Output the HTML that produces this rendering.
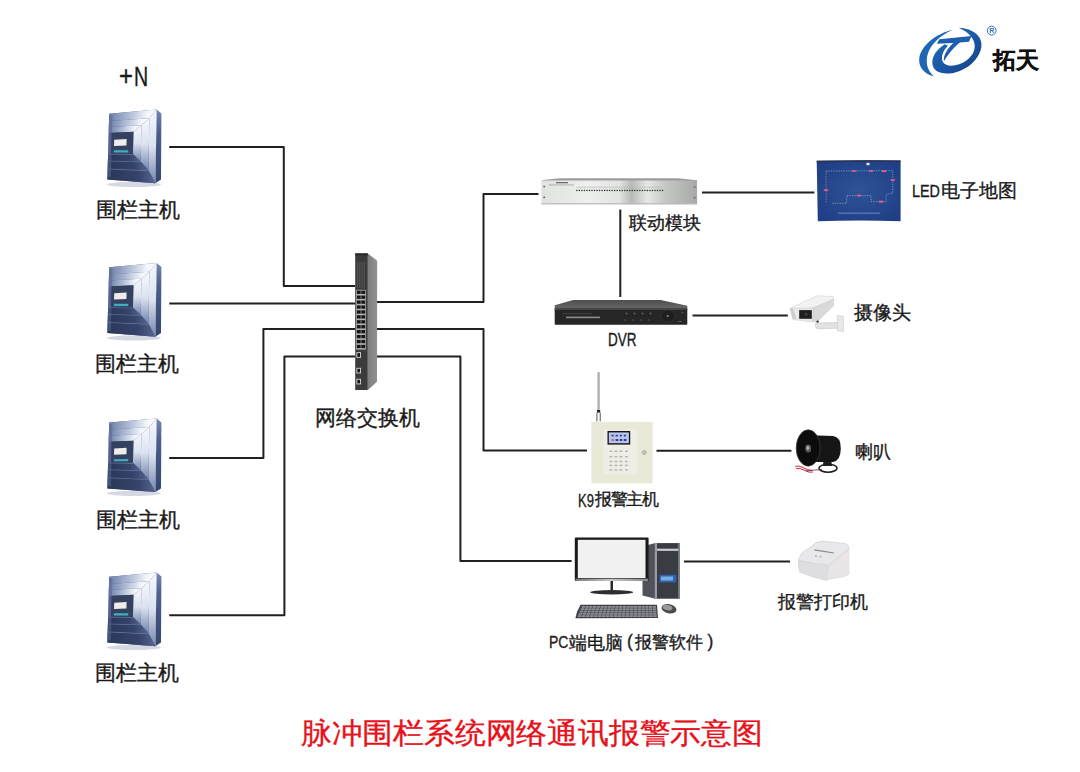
<!DOCTYPE html>
<html><head><meta charset="utf-8">
<style>
html,body{margin:0;padding:0;background:#fff;}
body{width:1080px;height:772px;position:relative;overflow:hidden;font-family:"Liberation Sans",sans-serif;}
svg{position:absolute;left:0;top:0;}
.t{position:absolute;white-space:nowrap;color:#1a1a1a;line-height:1;-webkit-text-stroke:0.35px currentColor;}
.l{font-size:21px;}
.r{font-size:18.5px;}
.nar{display:inline-block;transform:scaleX(0.78);transform-origin:0 50%;}
</style></head><body>
<svg width="1080" height="772" viewBox="0 0 1080 772">
<defs>
  <linearGradient id="hSide" x1="0" y1="0" x2="0" y2="1">
    <stop offset="0" stop-color="#7587b0"/><stop offset="0.3" stop-color="#4a5f8e"/><stop offset="1" stop-color="#34446c"/>
  </linearGradient>
  <linearGradient id="hTop" x1="0" y1="0" x2="1" y2="0">
    <stop offset="0" stop-color="#6d7fa8"/><stop offset="0.45" stop-color="#b4c0d8"/><stop offset="0.8" stop-color="#f3f6fb"/><stop offset="1" stop-color="#fafbfd"/>
  </linearGradient>
  <linearGradient id="hRight" x1="0" y1="0" x2="0" y2="1">
    <stop offset="0" stop-color="#f6f8fc"/><stop offset="0.5" stop-color="#dbe2ef"/><stop offset="1" stop-color="#7384ab"/>
  </linearGradient>
  <linearGradient id="hBot" x1="0" y1="0" x2="1" y2="0">
    <stop offset="0" stop-color="#2b3757"/><stop offset="0.65" stop-color="#36436a"/><stop offset="1" stop-color="#56668f"/>
  </linearGradient>
  <g id="host">
<ellipse cx="134" cy="184.5" rx="27" ry="2.6" fill="#aeb8cc" opacity="0.55"/>
<polygon points="156.6,109.6 161.4,113.6 161,179.6 155.4,183.2" fill="url(#hSide)"/>
<polygon points="109.20,113.80 156.60,109.60 155.40,183.20 107.40,179.60" fill="#4c5d88" />
<polygon points="109.20,113.80 156.60,109.60 149.35,118.20 109.00,121.04" fill="url(#hTop)" />
<polygon points="156.60,109.60 155.40,183.20 148.42,170.35 149.35,118.20" fill="url(#hRight)" />
<polygon points="107.71,168.41 148.42,170.35 155.40,183.20 107.40,179.60" fill="url(#hBot)" />
<polygon points="107.71,168.41 148.42,170.35 148.88,171.24 107.68,169.20" fill="#6578a3" />
<polygon points="109.00,121.04 149.35,118.20 141.39,125.15 108.84,126.96" fill="url(#hTop)" />
<polygon points="149.35,118.20 148.42,170.35 140.68,161.43 141.39,125.15" fill="url(#hRight)" />
<polygon points="107.92,160.52 140.68,161.43 148.42,170.35 107.71,168.41" fill="url(#hBot)" />
<polygon points="107.92,160.52 140.68,161.43 141.14,162.30 107.90,161.31" fill="#6578a3" />
<polygon points="108.84,126.96 141.39,125.15 133.42,131.87 108.68,132.88" fill="url(#hTop)" />
<polygon points="141.39,125.15 140.68,161.43 132.94,154.02 133.42,131.87" fill="url(#hRight)" />
<polygon points="108.11,153.74 132.94,154.02 140.68,161.43 107.92,160.52" fill="url(#hBot)" />
<polygon points="108.11,153.74 132.94,154.02 133.40,154.86 108.09,154.53" fill="#6578a3" />
<polygon points="109.16,115.12 112.47,115.50 110.83,177.20 107.45,177.63" fill="#566a96" opacity="0.55"/>
<polygon points="111.53,132.77 133.42,131.87 132.94,154.02 110.97,153.77" fill="#34415f" />
<polygon points="114.21,139.66 126.60,139.02 126.45,145.55 114.04,146.00" fill="#f1ecec" />
<polygon points="113.93,150.33 128.25,150.17 128.20,152.45 113.87,152.54" fill="#3fb0c0" />

  </g>
  <linearGradient id="swSide" x1="0" y1="0" x2="1" y2="0">
    <stop offset="0" stop-color="#7e7e7e"/><stop offset="1" stop-color="#929292"/>
  </linearGradient>
  <linearGradient id="silver" x1="0" y1="0" x2="1" y2="1">
    <stop offset="0" stop-color="#d8d8d8"/><stop offset="0.5" stop-color="#f2f2f2"/><stop offset="1" stop-color="#c4c4c4"/>
  </linearGradient>
  <linearGradient id="modFront" x1="0" y1="0" x2="1" y2="0">
    <stop offset="0" stop-color="#dfe2df"/><stop offset="0.3" stop-color="#eef0ee"/><stop offset="0.5" stop-color="#e2e4e2"/><stop offset="0.58" stop-color="#b8bab8"/><stop offset="0.68" stop-color="#e6e8e6"/><stop offset="0.8" stop-color="#c4c6c4"/><stop offset="1" stop-color="#a8aaa8"/>
  </linearGradient>
  <radialGradient id="ledG" cx="0.5" cy="0.5" r="0.6">
    <stop offset="0" stop-color="#2e5396"/><stop offset="1" stop-color="#203f86"/>
  </radialGradient>
  <linearGradient id="dvrTop" x1="0" y1="0" x2="0" y2="1">
    <stop offset="0" stop-color="#4e4e50"/><stop offset="1" stop-color="#6a6a6c"/>
  </linearGradient>
  <linearGradient id="bezel" x1="0" y1="0" x2="1" y2="0">
    <stop offset="0" stop-color="#7a7a7a"/><stop offset="0.5" stop-color="#c8c8c8"/><stop offset="1" stop-color="#8a8a8a"/>
  </linearGradient>
  <linearGradient id="logoG" x1="0" y1="0" x2="1" y2="1">
    <stop offset="0" stop-color="#2472c0"/><stop offset="0.55" stop-color="#1a56a4"/><stop offset="1" stop-color="#163c86"/>
  </linearGradient>
</defs>

<g stroke="#202020" stroke-width="2" fill="none" stroke-linejoin="round">
  <polyline points="169.2,147 283.8,147 283.8,286 355,286"/>
  <polyline points="169.3,303.5 355,303.5"/>
  <polyline points="377,302 483.5,302 483.5,193.9 538.5,193.9"/>
  <polyline points="169.2,458 263.4,458 263.4,329 355,329"/>
  <polyline points="377,329 483.5,329 483.5,450.6 587,450.6"/>
  <polyline points="169.2,615.2 284.4,615.2 284.4,356.5 355,356.5"/>
  <polyline points="377,356.4 460.4,356.4 460.4,561 571.6,561"/>
  <polyline points="702,192.6 814.4,192.6"/>
  <polyline points="620.3,209.5 620.3,297"/>
  <polyline points="692.5,315.5 787.8,315.5"/>
  <polyline points="656.5,450.7 791.4,450.7"/>
  <polyline points="684,561.4 790,561.4"/>
</g>

<use href="#host"/>
<use href="#host" transform="translate(0,153.5)"/>
<use href="#host" transform="translate(0,308.8)"/>
<use href="#host" transform="translate(0,463)"/>

<!-- switch -->
<polygon points="367.7,253.4 377.2,260.7 377,381.8 368,390" fill="url(#swSide)"/>
<rect x="355.2" y="253.4" width="12.6" height="136.6" fill="#3b3b3c"/>
<rect x="355.2" y="253.4" width="12.6" height="2" fill="#2a2a2a"/>
<rect x="357.2" y="262" width="0.9" height="26" fill="#5a5a5c"/>
<rect x="359.4" y="262" width="0.9" height="26" fill="#5a5a5c"/>
<rect x="361.6" y="262" width="0.9" height="26" fill="#5a5a5c"/>
<rect x="363.8" y="262" width="0.9" height="26" fill="#5a5a5c"/>
<rect x="356.2" y="289.8" width="9.6" height="59.8" fill="#b4b4b4"/>
<rect x="356.9" y="290.60" width="3.8" height="3.3" fill="#161616"/>
<rect x="361.3" y="290.60" width="3.8" height="3.3" fill="#161616"/>
<rect x="356.9" y="295.53" width="3.8" height="3.3" fill="#161616"/>
<rect x="361.3" y="295.53" width="3.8" height="3.3" fill="#161616"/>
<rect x="356.9" y="300.46" width="3.8" height="3.3" fill="#161616"/>
<rect x="361.3" y="300.46" width="3.8" height="3.3" fill="#161616"/>
<rect x="356.9" y="305.39" width="3.8" height="3.3" fill="#161616"/>
<rect x="361.3" y="305.39" width="3.8" height="3.3" fill="#161616"/>
<rect x="356.9" y="310.32" width="3.8" height="3.3" fill="#161616"/>
<rect x="361.3" y="310.32" width="3.8" height="3.3" fill="#161616"/>
<rect x="356.9" y="315.25" width="3.8" height="3.3" fill="#161616"/>
<rect x="361.3" y="315.25" width="3.8" height="3.3" fill="#161616"/>
<rect x="356.9" y="320.18" width="3.8" height="3.3" fill="#161616"/>
<rect x="361.3" y="320.18" width="3.8" height="3.3" fill="#161616"/>
<rect x="356.9" y="325.11" width="3.8" height="3.3" fill="#161616"/>
<rect x="361.3" y="325.11" width="3.8" height="3.3" fill="#161616"/>
<rect x="356.9" y="330.04" width="3.8" height="3.3" fill="#161616"/>
<rect x="361.3" y="330.04" width="3.8" height="3.3" fill="#161616"/>
<rect x="356.9" y="334.97" width="3.8" height="3.3" fill="#161616"/>
<rect x="361.3" y="334.97" width="3.8" height="3.3" fill="#161616"/>
<rect x="356.9" y="339.90" width="3.8" height="3.3" fill="#161616"/>
<rect x="361.3" y="339.90" width="3.8" height="3.3" fill="#161616"/>
<rect x="356.9" y="344.83" width="3.8" height="3.3" fill="#161616"/>
<rect x="361.3" y="344.83" width="3.8" height="3.3" fill="#161616"/>
<rect x="356.4" y="352.2" width="4.6" height="5.6" fill="#d8d8d8"/><rect x="357.3" y="353.1" width="2.8" height="3.8" fill="#1a1a1a"/>
<rect x="356.4" y="367.8" width="4.6" height="5.6" fill="#d8d8d8"/><rect x="357.3" y="368.7" width="2.8" height="3.8" fill="#1a1a1a"/>
<rect x="356.4" y="378.8" width="4.6" height="5.6" fill="#d8d8d8"/><rect x="357.3" y="379.7" width="2.8" height="3.8" fill="#1a1a1a"/>
<!-- linkage module -->
<polygon points="543,180 560,178.3 678,178.3 697,180.3 697,181.5 541.3,181.5" fill="#9c9c9c"/>
<rect x="541.3" y="180.5" width="155.8" height="23.7" fill="url(#modFront)"/>
<rect x="541.3" y="203.2" width="155.8" height="1.2" fill="#b8b8b8"/>
<rect x="576.20" y="189.8" width="1.3" height="1.3" fill="#2a2a2a"/><rect x="578.72" y="189.8" width="1.3" height="1.3" fill="#2a2a2a"/><rect x="581.24" y="189.8" width="1.3" height="1.3" fill="#2a2a2a"/><rect x="583.76" y="189.8" width="1.3" height="1.3" fill="#2a2a2a"/><rect x="586.28" y="189.8" width="1.3" height="1.3" fill="#2a2a2a"/><rect x="588.80" y="189.8" width="1.3" height="1.3" fill="#2a2a2a"/><rect x="591.32" y="189.8" width="1.3" height="1.3" fill="#2a2a2a"/><rect x="593.84" y="189.8" width="1.3" height="1.3" fill="#2a2a2a"/><rect x="596.36" y="189.8" width="1.3" height="1.3" fill="#2a2a2a"/><rect x="598.88" y="189.8" width="1.3" height="1.3" fill="#2a2a2a"/><rect x="601.40" y="189.8" width="1.3" height="1.3" fill="#2a2a2a"/><rect x="603.92" y="189.8" width="1.3" height="1.3" fill="#2a2a2a"/><rect x="606.44" y="189.8" width="1.3" height="1.3" fill="#2a2a2a"/><rect x="608.96" y="189.8" width="1.3" height="1.3" fill="#2a2a2a"/><rect x="611.48" y="189.8" width="1.3" height="1.3" fill="#2a2a2a"/><rect x="614.00" y="189.8" width="1.3" height="1.3" fill="#2a2a2a"/><rect x="616.52" y="189.8" width="1.3" height="1.3" fill="#2a2a2a"/><rect x="619.04" y="189.8" width="1.3" height="1.3" fill="#2a2a2a"/><rect x="621.56" y="189.8" width="1.3" height="1.3" fill="#2a2a2a"/><rect x="624.08" y="189.8" width="1.3" height="1.3" fill="#2a2a2a"/><rect x="626.60" y="189.8" width="1.3" height="1.3" fill="#2a2a2a"/><rect x="629.12" y="189.8" width="1.3" height="1.3" fill="#2a2a2a"/><rect x="631.64" y="189.8" width="1.3" height="1.3" fill="#2a2a2a"/><rect x="634.16" y="189.8" width="1.3" height="1.3" fill="#2a2a2a"/><rect x="636.68" y="189.8" width="1.3" height="1.3" fill="#2a2a2a"/><rect x="639.20" y="189.8" width="1.3" height="1.3" fill="#2a2a2a"/><rect x="641.72" y="189.8" width="1.3" height="1.3" fill="#2a2a2a"/><rect x="644.24" y="189.8" width="1.3" height="1.3" fill="#2a2a2a"/><rect x="646.76" y="189.8" width="1.3" height="1.3" fill="#2a2a2a"/><rect x="649.28" y="189.8" width="1.3" height="1.3" fill="#2a2a2a"/><rect x="651.80" y="189.8" width="1.3" height="1.3" fill="#2a2a2a"/><rect x="654.32" y="189.8" width="1.3" height="1.3" fill="#2a2a2a"/><rect x="656.84" y="189.8" width="1.3" height="1.3" fill="#2a2a2a"/><rect x="659.36" y="189.8" width="1.3" height="1.3" fill="#2a2a2a"/><rect x="661.88" y="189.8" width="1.3" height="1.3" fill="#2a2a2a"/>
<rect x="576" y="186.8" width="86" height="0.6" fill="#b0b0b0"/>
<rect x="556" y="182" width="12" height="1.3" fill="#6a6a6a"/><rect x="549" y="184.6" width="25" height="0.7" fill="#9a9a9a"/>
<ellipse cx="544.2" cy="186.6" rx="1.1" ry="0.8" fill="#666"/>
<ellipse cx="544.2" cy="197.4" rx="1.1" ry="0.8" fill="#666"/>
<ellipse cx="694.6" cy="187" rx="1.1" ry="0.8" fill="#666"/>
<ellipse cx="694.6" cy="197.8" rx="1.1" ry="0.8" fill="#666"/>
<!-- LED map -->
<path d="M816.7,160.8 Q858,159.8 900.6,160.4 L900.6,221.2 Q858,220 817.8,221.3 Z" fill="url(#ledG)"/>
<path d="M816.7,160.8 Q858,159.8 900.6,160.4 L900.6,162 Q858,161.4 816.7,162.4 Z" fill="#2a3450"/>
<polyline points="826.1,171.1 892.8,170.6 892.8,193.3 886.1,194.4 886.1,201.7 871.1,201.7 871.1,195.6 846.7,195.6 846.7,203.3 831.1,203.3" fill="none" stroke="#a8d0d0" stroke-width="0.9" stroke-dasharray="1.2 1.3" opacity="0.7"/>
<polyline points="826.1,171.1 826.1,202.2" fill="none" stroke="#c89ab8" stroke-width="0.8" stroke-dasharray="1.2 1.3" opacity="0.8"/>
<ellipse cx="854" cy="171" rx="2.6" ry="1.1" fill="#e05a8a"/>
<ellipse cx="871" cy="171" rx="2.6" ry="1.1" fill="#e05a8a"/>
<ellipse cx="884" cy="171.2" rx="2.6" ry="1.1" fill="#e05a8a"/>
<ellipse cx="892.8" cy="180" rx="2.6" ry="1.1" fill="#e05a8a"/>
<ellipse cx="859" cy="195.6" rx="2.6" ry="1.1" fill="#e05a8a"/>
<ellipse cx="881" cy="201.7" rx="2.6" ry="1.1" fill="#e05a8a"/>
<ellipse cx="826.1" cy="190" rx="2.6" ry="1.1" fill="#e05a8a"/>
<rect x="838" y="212.6" width="42" height="1.2" fill="#8aa0d0" opacity="0.6"/>
<rect x="866.5" y="162.8" width="3" height="2.4" fill="#e8eef8"/>
<!-- DVR -->
<polygon points="554.7,305.2 573.3,300 660.7,300 687.3,305.7 687.3,309.5 554.7,309.5" fill="url(#dvrTop)"/>
<rect x="554.7" y="308.6" width="132.6" height="16.1" rx="0.8" fill="#262627"/>
<rect x="554.7" y="308.6" width="132.6" height="1.3" fill="#4a4a4b"/>
<rect x="566" y="316.6" width="34" height="1.6" fill="#a8a8a8" opacity="0.8"/>
<rect x="562" y="313.5" width="30" height="0.6" fill="#555"/>
<circle cx="626.5" cy="313.5" r="0.9" fill="#666"/><circle cx="624.5" cy="320" r="0.8" fill="#555"/>
<circle cx="634.5" cy="313.5" r="0.9" fill="#666"/><circle cx="632.5" cy="320" r="0.8" fill="#555"/>
<circle cx="642.5" cy="313.5" r="0.9" fill="#666"/><circle cx="640.5" cy="320" r="0.8" fill="#555"/>
<circle cx="650.5" cy="313.5" r="0.9" fill="#666"/><circle cx="648.5" cy="320" r="0.8" fill="#555"/>
<ellipse cx="668" cy="316" rx="7" ry="6" fill="#1e1e1f" stroke="#3a3a3a" stroke-width="0.6"/>
<circle cx="667.7" cy="316" r="1.1" fill="#8a8a8a"/>
<rect x="678" y="321" width="4" height="0.8" fill="#6a6a6a"/><circle cx="682.5" cy="312.5" r="0.9" fill="#555"/>
<!-- camera -->
<path d="M815.5,323 L839,322.6 L839.5,328.2 L817.5,328.8 Q815,328 815.5,323 Z" fill="#e2e2e2" stroke="#b8b8b8" stroke-width="0.45"/>
<polygon points="837.2,315.3 843.4,316.6 843.6,331.6 837.4,330.6" fill="#e8e8e8" stroke="#bdbdbd" stroke-width="0.45"/>
<polygon points="790,308.3 817,295.8 833.2,296.5 833.8,299.2 813,308 791,309.5" fill="#f2f2f2" stroke="#c6c6c6" stroke-width="0.45"/>
<polygon points="813,308 833.8,299.2 833.4,306 818.3,320.8 812.5,322" fill="#d9d9d9" stroke="#c0c0c0" stroke-width="0.4"/>
<polygon points="790,308.3 813,308 812.5,322 793,319.5" fill="#e9e9e9" stroke="#c4c4c4" stroke-width="0.45"/>
<rect x="799.2" y="310.1" width="12.6" height="8.7" fill="#1f1f20"/>
<circle cx="806" cy="314.2" r="1.6" fill="#3a3a3c"/>
<polygon points="790,308.3 793,308.5 796.5,318.5 792.5,319" fill="#cdcdcd"/>
<circle cx="817.6" cy="321.6" r="1.2" fill="#3a3a3a"/>
<!-- K9 -->
<rect x="597.4" y="372" width="2.4" height="38.5" rx="1" fill="#b0b0b0"/>
<rect x="597" y="410" width="3.2" height="2.6" fill="#222"/>
<rect x="596.2" y="412.6" width="1.4" height="8.8" fill="#888"/><rect x="599.6" y="412.6" width="1.4" height="8.8" fill="#888"/>
<rect x="591.3" y="421.8" width="61.3" height="61.7" fill="#e8e9d6"/>
<rect x="603.5" y="429.6" width="34" height="44.7" fill="#eeeee6"/>
<rect x="607.5" y="431" width="22.7" height="13.6" fill="#141414"/>
<rect x="608.8" y="432.4" width="20.1" height="10.8" fill="#b8c4ec"/>
<rect x="611.5" y="434.8" width="2.2" height="1.6" fill="#2a3a8a"/><rect x="611.5" y="439" width="2.6" height="2" fill="#c06a9a"/>
<rect x="615.6" y="434.8" width="2.2" height="1.6" fill="#2a3a8a"/><rect x="615.6" y="439" width="2.6" height="2" fill="#2a3a9a"/>
<rect x="619.7" y="434.8" width="2.2" height="1.6" fill="#2a3a8a"/><rect x="619.7" y="439" width="2.6" height="2" fill="#2a3a9a"/>
<rect x="623.8" y="434.8" width="2.2" height="1.6" fill="#2a3a8a"/><rect x="623.8" y="439" width="2.6" height="2" fill="#2a3a9a"/>
<rect x="609.5" y="450.59999999999997" width="2.8" height="1.4" fill="#9a9a9a" opacity="0.7"/>
<rect x="614.5" y="450.59999999999997" width="2.8" height="1.4" fill="#9a9a9a" opacity="0.7"/>
<rect x="619.5" y="450.59999999999997" width="2.8" height="1.4" fill="#9a9a9a" opacity="0.7"/>
<rect x="625" y="450.59999999999997" width="2.8" height="1.4" fill="#9a9a9a" opacity="0.7"/>
<rect x="609.5" y="456.0" width="2.8" height="1.4" fill="#9a9a9a" opacity="0.7"/>
<rect x="614.5" y="456.0" width="2.8" height="1.4" fill="#9a9a9a" opacity="0.7"/>
<rect x="619.5" y="456.0" width="2.8" height="1.4" fill="#9a9a9a" opacity="0.7"/>
<rect x="625" y="456.0" width="2.8" height="1.4" fill="#9a9a9a" opacity="0.7"/>
<rect x="609.5" y="460.8" width="2.8" height="1.4" fill="#9a9a9a" opacity="0.7"/>
<rect x="614.5" y="460.8" width="2.8" height="1.4" fill="#9a9a9a" opacity="0.7"/>
<rect x="619.5" y="460.8" width="2.8" height="1.4" fill="#9a9a9a" opacity="0.7"/>
<rect x="625" y="460.8" width="2.8" height="1.4" fill="#9a9a9a" opacity="0.7"/>
<rect x="609.5" y="464.7" width="2.8" height="1.4" fill="#9a9a9a" opacity="0.7"/>
<rect x="614.5" y="464.7" width="2.8" height="1.4" fill="#9a9a9a" opacity="0.7"/>
<rect x="619.5" y="464.7" width="2.8" height="1.4" fill="#9a9a9a" opacity="0.7"/>
<rect x="625" y="464.7" width="2.8" height="1.4" fill="#9a9a9a" opacity="0.7"/>
<rect x="609.5" y="469.2" width="2.8" height="1.4" fill="#9a9a9a" opacity="0.7"/>
<rect x="614.5" y="469.2" width="2.8" height="1.4" fill="#9a9a9a" opacity="0.7"/>
<rect x="619.5" y="469.2" width="2.8" height="1.4" fill="#9a9a9a" opacity="0.7"/>
<rect x="625" y="469.2" width="2.8" height="1.4" fill="#9a9a9a" opacity="0.7"/>
<circle cx="644.3" cy="452.4" r="2" fill="#c8c8c0" stroke="#8a8a80" stroke-width="0.5"/>
<!-- speaker -->
<ellipse cx="828" cy="468.2" rx="9" ry="4" fill="none" stroke="#1c1c1c" stroke-width="1.6"/>
<path d="M823.5,459 L831,459 L832,466 L823,466 Z" fill="#1e1e1e"/>
<path d="M810.6,435.3 L833,436 Q841,437 840.8,448.6 Q840.6,461 833,462 L812,462 Z" fill="#161616"/>
<ellipse cx="808.2" cy="448" rx="12" ry="18.2" fill="#0c0c0c" stroke="#3c3c3c" stroke-width="0.7"/>
<ellipse cx="808.2" cy="448.4" rx="3" ry="4" fill="#5a5a5a"/><ellipse cx="807.8" cy="448" rx="1.4" ry="2" fill="#b0b0b0"/>
<path d="M795,466.5 Q800,465.5 804,468 Q808,470.5 812,470" fill="none" stroke="#d8506a" stroke-width="1.2"/>
<path d="M796,468.5 Q801,468 805,470.5 Q809,473 813,472" fill="none" stroke="#c0304a" stroke-width="1"/>
<path d="M806,471 Q814,470 822,469.5" fill="none" stroke="#6a2a30" stroke-width="0.8"/>
<!-- PC -->
<polygon points="642.5,546.5 655.4,543.1 655.4,598.7 642.5,595.5" fill="#50525a"/>
<rect x="655.4" y="543.1" width="24.4" height="55.6" fill="#3a3c44"/>
<rect x="654.8" y="543.1" width="2.2" height="55.6" fill="#9a9ca4"/><rect x="678.3" y="543.1" width="1.4" height="55.6" fill="#8a8c94"/>
<rect x="657" y="548.7" width="21.3" height="2.1" fill="#d0d0d4"/>
<rect x="659.5" y="574.8" width="16.7" height="7.6" fill="#2f62b0"/><rect x="661" y="576.5" width="12" height="4" fill="#78aee8"/>
<rect x="574.8" y="537.4" width="73.8" height="43.7" rx="1.2" fill="#1a1a1a"/>
<rect x="577.8" y="539.8" width="67.7" height="38.2" fill="#f1f1f1"/>
<rect x="575.5" y="578.6" width="72.4" height="2.4" fill="url(#bezel)"/>
<rect x="610.5" y="581" width="2.5" height="10" fill="#2a2a2a"/>
<ellipse cx="611.7" cy="592.2" rx="21.5" ry="2.2" fill="#2e2e2e"/>
<polygon points="577,612 580.5,604.8 657,604.8 658,618 575.4,618.2" fill="#3e3f46"/>
<rect x="581.75" y="606.00" width="3.24" height="1.8" fill="#8e9098"/><rect x="585.49" y="606.00" width="3.24" height="1.8" fill="#8e9098"/><rect x="589.22" y="606.00" width="3.24" height="1.8" fill="#8e9098"/><rect x="592.96" y="606.00" width="3.24" height="1.8" fill="#8e9098"/><rect x="596.69" y="606.00" width="3.24" height="1.8" fill="#8e9098"/><rect x="600.42" y="606.00" width="3.24" height="1.8" fill="#8e9098"/><rect x="604.16" y="606.00" width="3.24" height="1.8" fill="#8e9098"/><rect x="607.89" y="606.00" width="3.24" height="1.8" fill="#8e9098"/><rect x="611.63" y="606.00" width="3.24" height="1.8" fill="#8e9098"/><rect x="615.37" y="606.00" width="3.24" height="1.8" fill="#8e9098"/><rect x="619.10" y="606.00" width="3.24" height="1.8" fill="#8e9098"/><rect x="622.84" y="606.00" width="3.24" height="1.8" fill="#8e9098"/><rect x="626.57" y="606.00" width="3.24" height="1.8" fill="#8e9098"/><rect x="630.31" y="606.00" width="3.24" height="1.8" fill="#8e9098"/><rect x="634.04" y="606.00" width="3.24" height="1.8" fill="#8e9098"/><rect x="637.78" y="606.00" width="3.24" height="1.8" fill="#8e9098"/><rect x="641.51" y="606.00" width="3.24" height="1.8" fill="#8e9098"/><rect x="645.25" y="606.00" width="3.24" height="1.8" fill="#8e9098"/><rect x="648.98" y="606.00" width="3.24" height="1.8" fill="#8e9098"/><rect x="652.72" y="606.00" width="3.24" height="1.8" fill="#8e9098"/><rect x="580.75" y="608.30" width="3.30" height="1.8" fill="#8e9098"/><rect x="584.54" y="608.30" width="3.30" height="1.8" fill="#8e9098"/><rect x="588.34" y="608.30" width="3.30" height="1.8" fill="#8e9098"/><rect x="592.13" y="608.30" width="3.30" height="1.8" fill="#8e9098"/><rect x="595.93" y="608.30" width="3.30" height="1.8" fill="#8e9098"/><rect x="599.73" y="608.30" width="3.30" height="1.8" fill="#8e9098"/><rect x="603.52" y="608.30" width="3.30" height="1.8" fill="#8e9098"/><rect x="607.32" y="608.30" width="3.30" height="1.8" fill="#8e9098"/><rect x="611.11" y="608.30" width="3.30" height="1.8" fill="#8e9098"/><rect x="614.91" y="608.30" width="3.30" height="1.8" fill="#8e9098"/><rect x="618.70" y="608.30" width="3.30" height="1.8" fill="#8e9098"/><rect x="622.50" y="608.30" width="3.30" height="1.8" fill="#8e9098"/><rect x="626.29" y="608.30" width="3.30" height="1.8" fill="#8e9098"/><rect x="630.09" y="608.30" width="3.30" height="1.8" fill="#8e9098"/><rect x="633.88" y="608.30" width="3.30" height="1.8" fill="#8e9098"/><rect x="637.68" y="608.30" width="3.30" height="1.8" fill="#8e9098"/><rect x="641.47" y="608.30" width="3.30" height="1.8" fill="#8e9098"/><rect x="645.27" y="608.30" width="3.30" height="1.8" fill="#8e9098"/><rect x="649.06" y="608.30" width="3.30" height="1.8" fill="#8e9098"/><rect x="652.86" y="608.30" width="3.30" height="1.8" fill="#8e9098"/><rect x="579.75" y="610.60" width="3.36" height="1.8" fill="#8e9098"/><rect x="583.61" y="610.60" width="3.36" height="1.8" fill="#8e9098"/><rect x="587.46" y="610.60" width="3.36" height="1.8" fill="#8e9098"/><rect x="591.32" y="610.60" width="3.36" height="1.8" fill="#8e9098"/><rect x="595.17" y="610.60" width="3.36" height="1.8" fill="#8e9098"/><rect x="599.02" y="610.60" width="3.36" height="1.8" fill="#8e9098"/><rect x="602.88" y="610.60" width="3.36" height="1.8" fill="#8e9098"/><rect x="606.74" y="610.60" width="3.36" height="1.8" fill="#8e9098"/><rect x="610.59" y="610.60" width="3.36" height="1.8" fill="#8e9098"/><rect x="614.45" y="610.60" width="3.36" height="1.8" fill="#8e9098"/><rect x="618.30" y="610.60" width="3.36" height="1.8" fill="#8e9098"/><rect x="622.15" y="610.60" width="3.36" height="1.8" fill="#8e9098"/><rect x="626.01" y="610.60" width="3.36" height="1.8" fill="#8e9098"/><rect x="629.87" y="610.60" width="3.36" height="1.8" fill="#8e9098"/><rect x="633.72" y="610.60" width="3.36" height="1.8" fill="#8e9098"/><rect x="637.58" y="610.60" width="3.36" height="1.8" fill="#8e9098"/><rect x="641.43" y="610.60" width="3.36" height="1.8" fill="#8e9098"/><rect x="645.29" y="610.60" width="3.36" height="1.8" fill="#8e9098"/><rect x="649.14" y="610.60" width="3.36" height="1.8" fill="#8e9098"/><rect x="653.00" y="610.60" width="3.36" height="1.8" fill="#8e9098"/><rect x="578.75" y="612.90" width="3.42" height="1.8" fill="#8e9098"/><rect x="582.66" y="612.90" width="3.42" height="1.8" fill="#8e9098"/><rect x="586.58" y="612.90" width="3.42" height="1.8" fill="#8e9098"/><rect x="590.50" y="612.90" width="3.42" height="1.8" fill="#8e9098"/><rect x="594.41" y="612.90" width="3.42" height="1.8" fill="#8e9098"/><rect x="598.33" y="612.90" width="3.42" height="1.8" fill="#8e9098"/><rect x="602.24" y="612.90" width="3.42" height="1.8" fill="#8e9098"/><rect x="606.15" y="612.90" width="3.42" height="1.8" fill="#8e9098"/><rect x="610.07" y="612.90" width="3.42" height="1.8" fill="#8e9098"/><rect x="613.99" y="612.90" width="3.42" height="1.8" fill="#8e9098"/><rect x="617.90" y="612.90" width="3.42" height="1.8" fill="#8e9098"/><rect x="621.82" y="612.90" width="3.42" height="1.8" fill="#8e9098"/><rect x="625.73" y="612.90" width="3.42" height="1.8" fill="#8e9098"/><rect x="629.65" y="612.90" width="3.42" height="1.8" fill="#8e9098"/><rect x="633.56" y="612.90" width="3.42" height="1.8" fill="#8e9098"/><rect x="637.48" y="612.90" width="3.42" height="1.8" fill="#8e9098"/><rect x="641.39" y="612.90" width="3.42" height="1.8" fill="#8e9098"/><rect x="645.31" y="612.90" width="3.42" height="1.8" fill="#8e9098"/><rect x="649.22" y="612.90" width="3.42" height="1.8" fill="#8e9098"/><rect x="653.14" y="612.90" width="3.42" height="1.8" fill="#8e9098"/><rect x="577.75" y="615.20" width="3.48" height="1.8" fill="#8e9098"/><rect x="581.73" y="615.20" width="3.48" height="1.8" fill="#8e9098"/><rect x="585.70" y="615.20" width="3.48" height="1.8" fill="#8e9098"/><rect x="589.67" y="615.20" width="3.48" height="1.8" fill="#8e9098"/><rect x="593.65" y="615.20" width="3.48" height="1.8" fill="#8e9098"/><rect x="597.62" y="615.20" width="3.48" height="1.8" fill="#8e9098"/><rect x="601.60" y="615.20" width="3.48" height="1.8" fill="#8e9098"/><rect x="605.58" y="615.20" width="3.48" height="1.8" fill="#8e9098"/><rect x="609.55" y="615.20" width="3.48" height="1.8" fill="#8e9098"/><rect x="613.52" y="615.20" width="3.48" height="1.8" fill="#8e9098"/><rect x="617.50" y="615.20" width="3.48" height="1.8" fill="#8e9098"/><rect x="621.48" y="615.20" width="3.48" height="1.8" fill="#8e9098"/><rect x="625.45" y="615.20" width="3.48" height="1.8" fill="#8e9098"/><rect x="629.42" y="615.20" width="3.48" height="1.8" fill="#8e9098"/><rect x="633.40" y="615.20" width="3.48" height="1.8" fill="#8e9098"/><rect x="637.38" y="615.20" width="3.48" height="1.8" fill="#8e9098"/><rect x="641.35" y="615.20" width="3.48" height="1.8" fill="#8e9098"/><rect x="645.33" y="615.20" width="3.48" height="1.8" fill="#8e9098"/><rect x="649.30" y="615.20" width="3.48" height="1.8" fill="#8e9098"/><rect x="653.27" y="615.20" width="3.48" height="1.8" fill="#8e9098"/>
<ellipse cx="669" cy="608.8" rx="7.6" ry="4.6" fill="#4a4a4e" transform="rotate(12 669 608.8)"/><ellipse cx="667.5" cy="607.6" rx="5" ry="2.6" fill="#9a9a9e" transform="rotate(12 667.5 607.6)"/>
<!-- printer -->
<path d="M798.4,560.2 Q801,551 809.4,548 Q815,541.8 821.7,541.1 L845.5,543.4 Q849,544.6 848.9,548.5 L848.9,573.8 Q848,576.8 832.1,578.4 L826.2,580.3 Q812,577.5 799.7,571.9 Q797.8,566 798.4,560.2 Z" fill="#e8e8ea" stroke="#c2c2c4" stroke-width="0.5"/>
<path d="M798.4,560.2 Q812,563.5 828.8,565.4 L826.2,580.3 Q812,577.5 799.7,571.9 Q797.8,566 798.4,560.2 Z" fill="#dedee0"/>
<path d="M828.8,565.4 Q840,556 848.9,548.5 L848.9,573.8 Q848,576.8 832.1,578.4 L826.2,580.3 Z" fill="#e9e4e5"/>
<path d="M798.4,560.2 Q812,563.5 828.8,565.4 Q840,556 848.9,548.5" fill="none" stroke="#c8c8ca" stroke-width="0.5"/>
<path d="M828.8,565.4 L826.2,580.3" fill="none" stroke="#d0d0d2" stroke-width="0.5"/>
<polygon points="814.6,549.2 834,552.4 833.6,553.6 814.2,550.4" fill="#8a8a8c"/>
<circle cx="816" cy="556" r="0.9" fill="#aaa"/><circle cx="820.5" cy="556.6" r="0.9" fill="#aaa"/>
<!-- logo -->
<g transform="translate(910,20) scale(0.08333)">
  <path d="M512,116 C320,160 140,300 112,450 C95,560 170,650 285,675 C212,610 185,520 210,420 C240,295 360,185 512,116 Z" fill="#1f66b4"/>
  <path d="M585,92 C760,100 880,200 855,330 C830,470 690,600 520,635 C380,662 275,620 268,520 C262,430 330,340 420,290 L455,310 C395,370 372,440 390,495 C415,552 500,560 590,532 C715,485 785,390 776,300 C770,225 715,150 585,92 Z" fill="url(#logoG)"/>
  <path d="M322,284 L352,232 L738,192 L708,262 L600,270 C520,330 450,420 408,495 C396,440 440,350 520,276 Z" fill="#1d5fae"/>
</g>
<circle cx="991.7" cy="30.6" r="4.4" fill="none" stroke="#3b6fb6" stroke-width="1"/>
<text x="991.7" y="33.4" font-family="Liberation Sans" font-size="7" font-weight="bold" fill="#3b6fb6" text-anchor="middle">R</text>
</svg>

<div class="t" style="left:119px;top:61.7px;font-size:27.5px"><span class="nar" style="transform:scaleX(0.87)">+</span></div>
<div class="t" style="left:133.5px;top:62.8px;font-size:27.5px"><span class="nar" style="transform:scaleX(0.714)">N</span></div>
<div class="t l" style="left:95.5px;top:199px">围栏主机</div>
<div class="t l" style="left:95px;top:353px">围栏主机</div>
<div class="t l" style="left:96px;top:509px">围栏主机</div>
<div class="t l" style="left:95px;top:661.5px">围栏主机</div>
<div class="t l" style="left:315px;top:406.8px">网络交换机</div>
<div class="t" style="left:629px;top:214px;font-size:18.2px">联动模块</div>
<div class="t" style="left:911.5px;top:184px;font-size:16.7px"><span class="nar" style="transform:scaleX(0.86)">LED</span></div>
<div class="t" style="left:940.5px;top:182.3px;font-size:18.5px">电子地图</div>
<div class="t" style="left:608px;top:331px;font-size:18px"><span class="nar" style="transform:scaleX(0.75)">DVR</span></div>
<div class="t" style="left:853.5px;top:303.5px;font-size:18.5px">摄像头</div>
<div class="t" style="left:578px;top:492.5px;font-size:17.5px"><span class="nar" style="transform:scaleX(0.74)">K9</span></div>
<div class="t" style="left:595px;top:492px;font-size:16.7px;letter-spacing:-1.3px">报警主机</div>
<div class="t" style="left:854.5px;top:442.5px;font-size:18.3px">喇叭</div>
<div class="t" style="left:549px;top:634px;font-size:17.4px"><span class="nar" style="transform:scaleX(0.8)">PC</span></div>
<div class="t" style="left:568.5px;top:634px;font-size:18.2px">端电脑</div>
<div class="t" style="left:627px;top:633px;font-size:17.5px">(</div>
<div class="t" style="left:634.5px;top:634px;font-size:17.2px">报警软件</div>
<div class="t" style="left:707.5px;top:633px;font-size:17.5px">)</div>
<div class="t" style="left:778px;top:592.5px;font-size:18.2px">报警打印机</div>
<div class="t" style="left:300.8px;top:718.5px;font-size:31px;letter-spacing:-0.2px;color:#e8101a;transform:scaleY(0.94);transform-origin:0 0">脉冲围栏系统网络通讯报警示意图</div>
<div class="t" style="left:993px;top:49px;font-size:23px;font-weight:bold;color:#111;-webkit-text-stroke:0.25px #111">拓天</div>
</body></html>
